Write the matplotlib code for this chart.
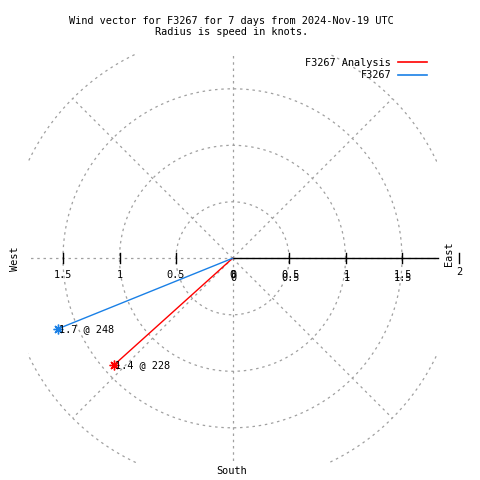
import numpy as np
import matplotlib
matplotlib.use('Agg')
import matplotlib.pyplot as plt

# wind vectors: speed (knots) and compass direction (degrees)
series_names = ['F3267 Analysis', 'F3267']
series_colors = ['#ff0000', '#1a80e6']
speeds = [1.41, 1.67]
directions = [228, 248]

ring_radii = [0.5, 1.0, 1.5, 2.0]
spoke_angles = [0, 45, 90, 135, 180, 225, 270, 315]
west_ticks = [1.5, 1.0, 0.5, 0.0]
east_ticks = [0.5, 1.0, 1.5]

title = 'Wind vector for F3267 for 7 days from 2024-Nov-19 UTC\nRadius is speed in knots.'

plt.rcParams['font.family'] = 'DejaVu Sans Mono'
fs = 7.4
grey = '#a0a0a0'
dash = (0, (2, 3))

W = H = 480
fig = plt.figure(figsize=(4.8, 4.8), dpi=100)
lim = 1.81
scale = 113.0
cx, cy = 232.5, 258.3
ax = fig.add_axes([(cx - lim * scale) / W, (H - cy - lim * scale) / H,
                   2 * lim * scale / W, 2 * lim * scale / H])
ax.set_xlim(-lim, lim)
ax.set_ylim(-lim, lim)
ax.axis('off')

# polar grid, spokes stop at the outer ring
t = np.linspace(0, 2 * np.pi, 400)
for r in ring_radii:
    ax.plot(r * np.cos(t), r * np.sin(t), color=grey, lw=0.9, ls=dash)
rmax = ring_radii[-1]
for a in spoke_angles:
    rad = np.deg2rad(a)
    ax.plot([0, rmax * np.sin(rad)], [0, rmax * np.cos(rad)], color=grey, lw=0.9, ls=dash)

# r axis toward East
ax.plot([0, 1.82], [0, 0], color='black', lw=1, clip_on=False)
for v in east_ticks + [2.0]:
    ax.plot([v, v], [-0.045, 0.045], color='black', lw=1, clip_on=False)
for v in west_ticks[:-1]:
    ax.plot([-v, -v], [-0.045, 0.045], color='black', lw=1, clip_on=False)

ly = -0.148
for v in west_ticks:
    ax.text(-v, ly, f'{v:g}', ha='center', va='center', fontsize=fs, clip_on=False)
# gnuplot draws the East labels twice, slightly shifted
for v in [0.0] + east_ticks:
    for off in (0.0, 0.025):
        ax.text(v + 0.01, ly - off, f'{v:g}', ha='center', va='center', fontsize=fs,
                clip_on=False)
ax.text(2.0 + 0.01, -0.12, '2', ha='center', va='center', fontsize=fs, clip_on=False)

# compass labels
fig.text(15 / W, 1 - 259 / H, 'West', rotation=90, ha='center', va='center', fontsize=fs)
fig.text(449 / W, 1 - 254 / H, 'East', rotation=90, ha='center', va='center', fontsize=fs)
fig.text(232 / W, 1 - 471 / H, 'South', ha='center', va='center', fontsize=fs)

# wind vectors
for name, col, s, d in zip(series_names, series_colors, speeds, directions):
    rad = np.deg2rad(d)
    x, y = s * np.sin(rad), s * np.cos(rad)
    ax.plot([0, x], [0, y], color=col, lw=1)
    ax.plot([x], [y], marker=(8, 2, 0), color=col, ms=7, mew=1, ls='none')
    ax.text(x + 0.01, y, f'{s:.1f} @ {d}', ha='left', va='center', fontsize=fs)

# title
fig.text(231.5 / W, 1 - 26.5 / H, title, ha='center', va='center', fontsize=fs,
         linespacing=1.2)

# legend
for i, (name, col) in enumerate(zip(series_names, series_colors)):
    yy = 1 - (63 + 12.5 * i) / H
    fig.text(391 / W, yy, name, ha='right', va='center', fontsize=fs)
    fig.add_artist(plt.Line2D([398 / W, 427 / W], [yy + 0.5 / H, yy + 0.5 / H],
                              color=col, lw=1.2))

fig.savefig('out.png', dpi=100)
